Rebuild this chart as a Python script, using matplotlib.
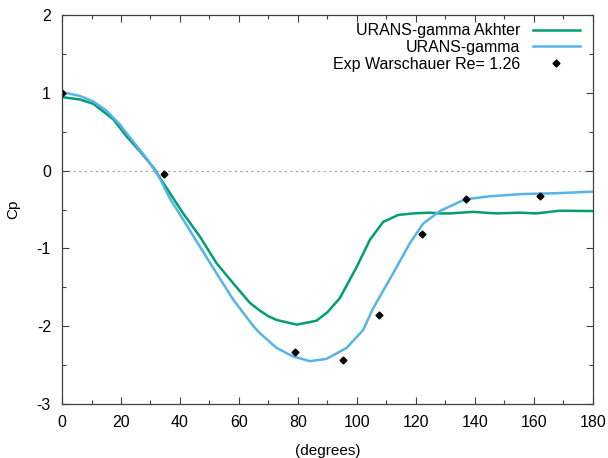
import matplotlib
matplotlib.use("Agg")
import matplotlib.pyplot as plt
from matplotlib.ticker import MultipleLocator

plt.rcParams['font.family'] = ['Liberation Sans', 'DejaVu Sans']
plt.rcParams['axes.unicode_minus'] = False

# URANS-gamma Akhter (green)
akh_x = [0, 6.1, 10.6, 14, 17.4, 21.9, 26.4, 31, 36.6, 41.1, 46.8, 52.4, 58.1, 63.7,
         67.1, 69.9, 72.8, 79.6, 86.3, 90, 94.2, 99.9, 104.4, 108.9, 114, 119, 124.7,
         128, 131.5, 139.4, 147.4, 155.3, 160.9, 168.8, 180]
akh_y = [0.946, 0.915, 0.86, 0.76, 0.66, 0.44, 0.25, 0.04, -0.29, -0.55, -0.85, -1.19,
         -1.45, -1.70, -1.80, -1.87, -1.92, -1.98, -1.93, -1.82, -1.64, -1.24, -0.89, -0.66,
         -0.57, -0.55, -0.54, -0.55, -0.55, -0.53, -0.55, -0.54, -0.55, -0.515, -0.52]

# URANS-gamma (blue)
ug_x = [0, 6.1, 10.6, 15.1, 19.7, 24.2, 28.7, 33.2, 36.6, 41.1, 46.8, 52.4, 58.1, 64.9,
        67.1, 72.8, 78.4, 84.1, 89.7, 96.5, 102.1, 105.5, 112.3, 118, 122.5, 128.1,
        131.5, 136.6, 145, 156.4, 167.7, 180]
ug_y = [1.01, 0.96, 0.89, 0.77, 0.59, 0.37, 0.158, -0.1, -0.36, -0.63, -0.98, -1.32,
        -1.66, -2.0, -2.09, -2.28, -2.39, -2.45, -2.42, -2.28, -2.05, -1.77, -1.32, -0.93,
        -0.68, -0.52, -0.46, -0.37, -0.33, -0.30, -0.29, -0.27]

# Exp Warschauer
exp_x = [0, 34.5, 79, 95.3, 107.5, 122, 137, 162]
exp_y = [1.0, -0.044, -2.33, -2.43, -1.85, -0.81, -0.36, -0.33]

fig = plt.figure(figsize=(6.08, 4.58), dpi=100)
ax = fig.add_axes([0.102, 0.118, 0.873, 0.849])

ax.axhline(0, color='#a0a0a0', lw=0.8, ls=(0, (2, 3)), zorder=1)
ax.plot(akh_x, akh_y, color='#009e73', lw=1.8, label='URANS-gamma Akhter')
ax.plot(ug_x, ug_y, color='#56b4e9', lw=1.8, label='URANS-gamma')
ax.plot(exp_x, exp_y, ls='none', marker='D', ms=3.5, color='black',
        label='Exp Warschauer Re= 1.26')

ax.set_xlim(0, 180)
ax.set_ylim(-3, 2)
ax.xaxis.set_major_locator(MultipleLocator(20))
ax.xaxis.set_minor_locator(MultipleLocator(10))
ax.yaxis.set_major_locator(MultipleLocator(1))
ax.yaxis.set_minor_locator(MultipleLocator(0.5))
ax.tick_params(which='both', direction='in', top=True, right=True, labelsize=11.5,
               color='#404040', width=0.8)
ax.tick_params(which='major', length=5, pad=8)
ax.tick_params(which='minor', length=3)
for s in ax.spines.values():
    s.set_color('#404040')
    s.set_linewidth(0.9)

ax.set_xlabel('(degrees)', fontsize=11, labelpad=10)
ax.set_ylabel('Cp', fontsize=11, labelpad=12)

ax.legend(loc='upper right', frameon=False, markerfirst=False, fontsize=11.5,
          handlelength=2.9, labelspacing=0.12, borderaxespad=0.1,
          bbox_to_anchor=(0.99, 1.0))

fig.savefig('out.png', dpi=100)
